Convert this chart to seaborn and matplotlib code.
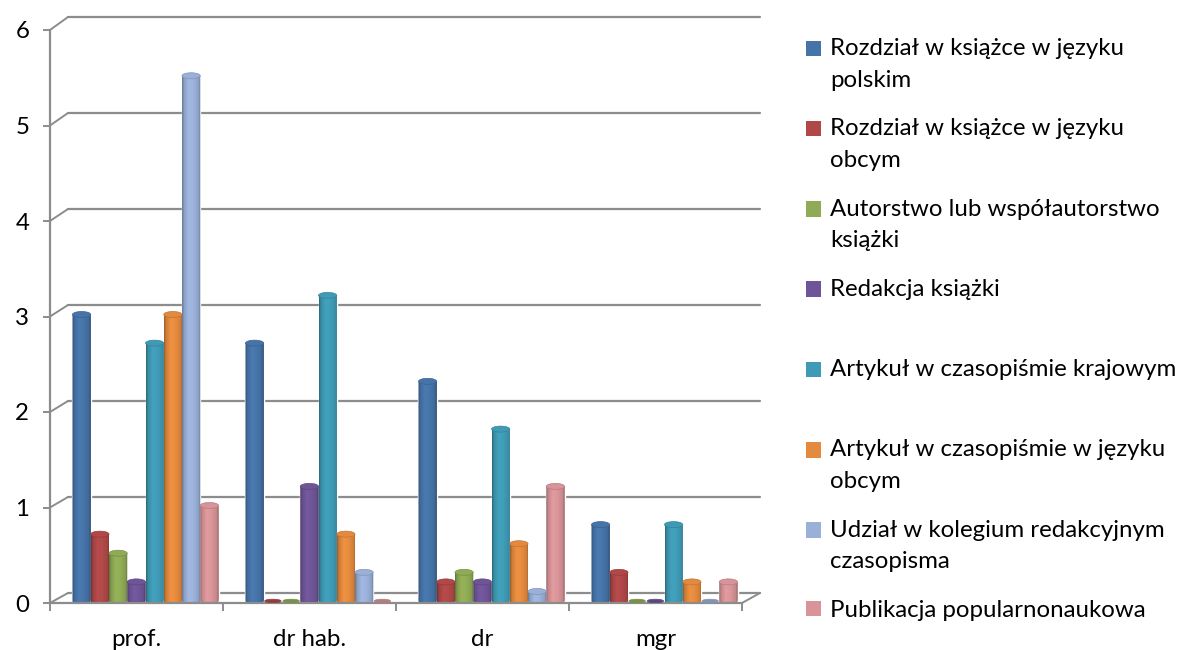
import numpy as np
import pandas as pd
import matplotlib
matplotlib.use("Agg")
import matplotlib.pyplot as plt
import matplotlib.colors as mc
from matplotlib.patches import Ellipse
from matplotlib.path import Path
import seaborn as sns

categories = ["prof.", "dr hab.", "dr", "mgr"]
series_names = [
    "Rozdział w książce w języku polskim",
    "Rozdział w książce w języku obcym",
    "Autorstwo lub współautorstwo książki",
    "Redakcja książki",
    "Artykuł w czasopiśmie krajowym",
    "Artykuł w czasopiśmie w języku obcym",
    "Udział w kolegium redakcyjnym czasopisma",
    "Publikacja popularnonaukowa",
]
legend_labels = [
    "Rozdział w książce w języku\npolskim",
    "Rozdział w książce w języku\nobcym",
    "Autorstwo lub współautorstwo\nksiążki",
    "Redakcja książki\n ",
    "Artykuł w czasopiśmie krajowym\n ",
    "Artykuł w czasopiśmie w języku\nobcym",
    "Udział w kolegium redakcyjnym\nczasopisma",
    "Publikacja popularnonaukowa",
]
rozdzial_pl = [3.0, 2.7, 2.3, 0.8]
rozdzial_obcy = [0.7, 0.0, 0.2, 0.3]
autorstwo = [0.5, 0.0, 0.3, 0.0]
redakcja = [0.2, 1.2, 0.2, 0.0]
artykul_kraj = [2.7, 3.2, 1.8, 0.8]
artykul_obcy = [3.0, 0.7, 0.6, 0.2]
kolegium = [5.5, 0.3, 0.1, 0.0]
popularna = [1.0, 0.0, 1.2, 0.2]
all_series = [rozdzial_pl, rozdzial_obcy, autorstwo, redakcja,
              artykul_kraj, artykul_obcy, kolegium, popularna]
colors = ["#4674A8", "#B04848", "#8FAB55", "#6F5597",
          "#3F9BB5", "#E48A3E", "#9AB0D8", "#D89498"]

W, H = 1185, 650
sns.set_theme(style="white")
plt.rcParams["font.family"] = ["Lato", "DejaVu Sans"]
GRAY = "#8C8C8C"
FS = 17.3

df = pd.DataFrame([
    {"stopien": c, "wartosc": v, "rodzaj": n}
    for n, vals in zip(series_names, all_series)
    for c, v in zip(categories, vals)
])

fig = plt.figure(figsize=(W / 100, H / 100), dpi=100)
ax = fig.add_axes([50 / W, (H - 603) / H, 692 / W, 573 / H])
sns.barplot(data=df, x="stopien", y="wartosc", hue="rodzaj", palette=colors,
            hue_order=series_names, order=categories, width=0.844, gap=0,
            saturation=1, errorbar=None, ax=ax, zorder=2)
handles, _ = ax.get_legend_handles_labels()

ax.set_xlim(-0.5, 3.5)
ax.set_ylim(0, 6)
ax.set_xlabel("")
ax.set_ylabel("")
px = 1 / 173.0   # one pixel in x data units
py = 1 / 95.5    # one pixel in y data units

# back wall, left wall and floor
ticks_y = list(range(7))
bx0 = -0.5 + 18 * px
for v in ticks_y:
    by = v + (10 + 0.5 * v) * py
    ax.plot([bx0, 3.5 + 18 * px], [by, by], color=GRAY, lw=1.6, zorder=1, clip_on=False)
    ax.plot([-0.5, bx0], [v, by], color=GRAY, lw=1.4, zorder=1, clip_on=False)
ax.plot([3.5, 3.5 + 18 * px], [0, 10 * py], color=GRAY, lw=1.4, zorder=1, clip_on=False)

for s in ("top", "right"):
    ax.spines[s].set_visible(False)
for s in ("left", "bottom"):
    ax.spines[s].set_color(GRAY)
    ax.spines[s].set_linewidth(1.6)
ax.set_yticks(ticks_y)
ax.tick_params(axis="y", length=5, width=1.4, color=GRAY, pad=10, labelsize=FS, labelcolor="black", left=True)
ax.set_xticks([-0.5, 0.5, 1.5, 2.5, 3.5], labels=[""] * 5)
ax.set_xticks(range(4), labels=categories, minor=True)
ax.tick_params(axis="x", which="major", length=6, width=1.4, color=GRAY, bottom=True)
ax.tick_params(axis="x", which="minor", length=0, pad=18.5, labelsize=FS, labelcolor="black")

# cylinder shading, built from the bars drawn by seaborn
shade_t = np.linspace(0, 1, 40)
shade = np.interp(shade_t, [0, 0.1, 0.35, 0.6, 0.88, 1], [0.68, 0.9, 1.05, 1.02, 0.92, 0.68])
ell_h = 6 * py
dx, dy = 9 * px, 2 * py
for cont, col in zip(ax.containers, colors):
    rgb = np.array(mc.to_rgb(col))
    grad = np.clip(shade[None, :, None] * rgb[None, None, :], 0, 1)
    top_col = np.clip(rgb * 1.0, 0, 1)
    edge_col = rgb * 0.84
    for bar in cont:
        bar.set_x(bar.get_x() + dx)
        bar.set_y(dy)
        x, w, h = bar.get_x(), bar.get_width(), bar.get_height()
        if h > 0:
            th = np.linspace(np.pi, 2 * np.pi, 30)
            xs = x + w / 2 + w / 2 * np.cos(th)
            ys = dy + ell_h / 2 * np.sin(th)
            verts = np.vstack([[x, dy + h], np.c_[xs, ys], [x + w, dy + h], [x, dy + h]])
            im = ax.imshow(grad, extent=(x, x + w, dy - ell_h / 2, dy + h), aspect="auto",
                           interpolation="bilinear", zorder=2.5)
            im.set_clip_path(Path(verts), ax.transData)
        ax.add_patch(Ellipse((x + w / 2, dy + h), w * (1 if h > 0 else 0.9), ell_h * (1 if h > 0 else 0.6),
                             facecolor=top_col if h > 0 else edge_col, edgecolor=edge_col, lw=0.5, zorder=3))
ax.set_xlim(-0.5, 3.5)
ax.set_ylim(0, 6)

leg = ax.legend(handles=handles, labels=legend_labels, loc="upper left",
                bbox_to_anchor=(806 / W, 1 - 38 / H), bbox_transform=fig.transFigure,
                frameon=False, fontsize=FS, borderpad=0, borderaxespad=0,
                handlelength=15 * 0.72 / FS, handleheight=15 * 0.72 / FS,
                handletextpad=9 * 0.72 / FS, labelspacing=1.155)
for t in leg.get_texts():
    t.set_linespacing(1.62)
    t.set_color("black")
for p, lab in zip(leg.get_patches(), legend_labels):
    if "\n" in lab:
        p.set_y(p.get_y() + 11.5)
    p.set_edgecolor("none")

fig.savefig("out.png", dpi=100, facecolor="white")
